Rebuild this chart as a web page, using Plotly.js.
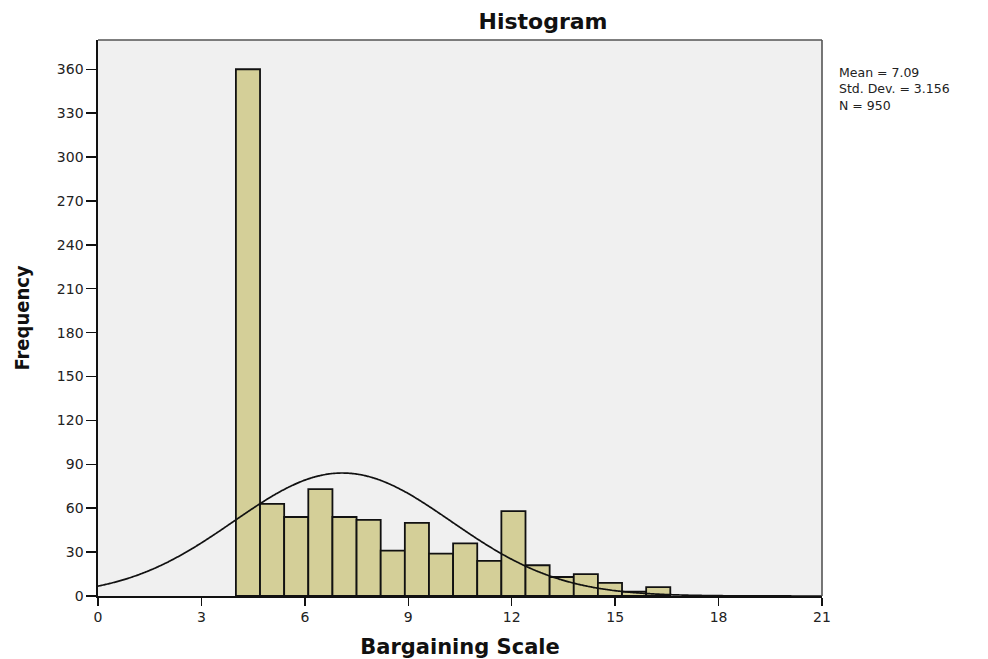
<!DOCTYPE html>
<html>
<head>
<meta charset="utf-8">
<script src="https://cdn.plot.ly/plotly-3.0.1.min.js"></script>
<style>html,body{margin:0;padding:0;background:#fff;}#chart{width:988px;height:659px;}</style>
</head>
<body>
<div id="chart"></div>
<script>
// Histogram data (Bargaining Scale)
var binStart = 4.0;
var binWidth = 0.7;
var frequencies = [360, 63, 54, 73, 54, 52, 31, 50, 29, 36, 24, 58, 21, 13, 15, 9, 3, 6];
// Summary statistics shown in the legend box
var meanValue = 7.09;
var stdDev = 3.156;
var nCount = 950;
var xTicks = [0, 3, 6, 9, 12, 15, 18, 21];
var yTicks = [0, 30, 60, 90, 120, 150, 180, 210, 240, 270, 300, 330, 360];

var binCenters = frequencies.map(function(_, i){ return binStart + binWidth * (i + 0.5); });

// Fitted normal curve (scaled to counts per bin)
var curveX = [], curveY = [];
for (var k = 0; k <= 420; k++) {
  var xv = k * 21 / 420;
  var z = (xv - meanValue) / stdDev;
  curveX.push(xv);
  curveY.push(nCount * binWidth * Math.exp(-0.5 * z * z) / (stdDev * Math.sqrt(2 * Math.PI)));
}

var font = "DejaVu Sans, Liberation Sans, Arial, sans-serif";
var condFont = "DejaVu Sans Condensed, Liberation Sans Narrow, Liberation Sans, Arial, sans-serif";

var traces = [
  {
    type: 'bar', x: binCenters, y: frequencies, width: binWidth,
    marker: {color: '#D4CF98', line: {color: '#111', width: 1.8}},
    hoverinfo: 'x+y', showlegend: false
  },
  {
    type: 'scatter', mode: 'lines', x: curveX, y: curveY,
    line: {color: '#111', width: 1.7, shape: 'spline'},
    hoverinfo: 'skip', showlegend: false
  }
];

var statText = ['Mean = ' + meanValue.toFixed(2),
                'Std. Dev. = ' + stdDev.toFixed(3),
                'N = ' + nCount].join('<br>');

var layout = {
  width: 988, height: 659,
  margin: {l: 98, r: 166, t: 40, b: 63},
  paper_bgcolor: '#ffffff',
  plot_bgcolor: '#F0F0F0',
  bargap: 0,
  font: {family: font, size: 14, color: '#222'},
  title: {text: '<b>Histogram</b>', font: {family: font, size: 22, color: '#111'},
          x: 0.5496, xref: 'container', xanchor: 'center', y: 0.967, yref: 'container', yanchor: 'middle'},
  xaxis: {
    range: [0, 21], tickvals: xTicks, ticktext: xTicks.map(String),
    ticks: 'outside', ticklen: 8, tickwidth: 1.5, tickcolor: '#111',
    showline: true, linecolor: '#111', linewidth: 1.6, mirror: false,
    showgrid: false, zeroline: false,
    tickfont: {family: font, size: 14, color: '#222'},
    title: {text: '<b>Bargaining Scale</b>', font: {family: font, size: 21, color: '#111'}, standoff: 17}
  },
  yaxis: {
    range: [0, 380], tickvals: yTicks, ticktext: yTicks.map(String),
    ticks: 'outside', ticklen: 10, tickwidth: 1.5, tickcolor: '#111',
    showline: true, linecolor: '#111', linewidth: 1.6, mirror: false,
    showgrid: false, zeroline: false,
    tickfont: {family: font, size: 14, color: '#222'},
    title: {text: '<b>Frequency</b>', font: {family: condFont, size: 20, color: '#111'}, standoff: 22}
  },
  shapes: [
    {type: 'line', xref: 'paper', yref: 'paper', x0: 0, x1: 1, y0: 1, y1: 1, line: {color: '#555', width: 1.6}},
    {type: 'line', xref: 'paper', yref: 'paper', x0: 1, x1: 1, y0: 0, y1: 1, line: {color: '#555', width: 1.6}}
  ],
  annotations: [
    {text: statText, align: 'left', xref: 'paper', yref: 'paper', x: 1.0215, y: 0.957,
     xanchor: 'left', yanchor: 'top', showarrow: false, borderpad: 0,
     font: {family: font, size: 12.5, color: '#222'}}
  ]
};

Plotly.newPlot('chart', traces, layout, {displayModeBar: false, staticPlot: true});
</script>
</body>
</html>
